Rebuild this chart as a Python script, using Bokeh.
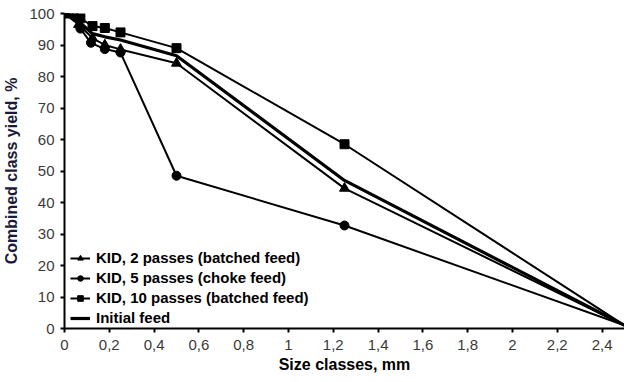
from bokeh.plotting import figure
from bokeh.models import Range1d, FixedTicker, Legend, LegendItem
from bokeh.embed import file_html
from bokeh.resources import INLINE

# ---- data ----
x_2p = [0, 0.063, 0.125, 0.18, 0.25, 0.5, 1.25, 2.5]
y_2p = [100, 96.5, 92.2, 90.0, 88.6, 84.2, 44.5, 1.0]

x_5p = [0, 0.04, 0.071, 0.118, 0.18, 0.25, 0.5, 1.25, 2.5]
y_5p = [100, 100, 95.2, 90.7, 88.7, 87.6, 48.5, 32.7, 1.0]

x_10p = [0, 0.071, 0.125, 0.18, 0.25, 0.5, 1.25, 2.5]
y_10p = [100, 98.5, 96.0, 95.4, 94.0, 89.0, 58.5, 1.0]

x_init = [0, 0.071, 0.125, 0.18, 0.25, 0.5, 1.25, 2.5]
y_init = [100, 97.0, 93.6, 92.6, 91.6, 86.6, 47.0, 1.0]

x_ticks = [0, 0.2, 0.4, 0.6, 0.8, 1.0, 1.2, 1.4, 1.6, 1.8, 2.0, 2.2, 2.4]
x_tick_labels = ["0", "0,2", "0,4", "0,6", "0,8", "1", "1,2", "1,4", "1,6", "1,8", "2", "2,2", "2,4"]
y_ticks = [0, 10, 20, 30, 40, 50, 60, 70, 80, 90, 100]

labels = ["KID, 2 passes (batched feed)", "KID, 5 passes (choke feed)",
          "KID, 10 passes (batched feed)", "Initial feed"]

FONT = "Liberation Sans"

p = figure(frame_width=560, frame_height=315, output_backend="svg", toolbar_location=None,
           x_range=Range1d(0, 2.5), y_range=Range1d(0, 100),
           min_border_left=62, min_border_right=0, min_border_top=13, min_border_bottom=46)
p.outline_line_color = None
p.xgrid.visible = False
p.ygrid.visible = False
p.background_fill_color = "white"
p.border_fill_color = "white"

# series
r2l = p.line(x_2p, y_2p, line_color="black", line_width=2)
r2m = p.scatter(x_2p[:-1], y_2p[:-1], marker="triangle", size=10, color="black")
r5l = p.line(x_5p, y_5p, line_color="black", line_width=2)
r5m = p.scatter(x_5p[:-1], y_5p[:-1], marker="circle", size=9, color="black")
r10l = p.line(x_10p, y_10p, line_color="black", line_width=2)
r10m = p.scatter(x_10p[:-1], y_10p[:-1], marker="square", size=9, color="black")
ril = p.line(x_init, y_init, line_color="black", line_width=3.2)

legend = Legend(items=[
    LegendItem(label=labels[0], renderers=[r2l, r2m]),
    LegendItem(label=labels[1], renderers=[r5l, r5m]),
    LegendItem(label=labels[2], renderers=[r10l, r10m]),
    LegendItem(label=labels[3], renderers=[ril]),
], location=(6, 2))
legend.label_text_font = FONT
legend.label_text_font_style = "bold"
legend.label_text_font_size = "15px"
legend.label_text_color = "black"
legend.glyph_width = 20
legend.glyph_height = 14
legend.label_standoff = 6
legend.spacing = 3
legend.padding = 4
legend.margin = 0
legend.border_line_color = None
legend.background_fill_alpha = 0
p.add_layout(legend)

# axes
for ax in (p.xaxis[0], p.yaxis[0]):
    ax.axis_line_color = "black"
    ax.axis_line_width = 2
    ax.major_tick_line_color = "black"
    ax.major_tick_line_width = 2
    ax.major_tick_out = 4
    ax.major_tick_in = 0
    ax.minor_tick_line_color = None
    ax.major_label_text_font = FONT
    ax.major_label_text_font_size = "15px"
    ax.major_label_text_color = "#3a3a3a"
    ax.axis_label_text_font = FONT
    ax.axis_label_text_font_style = "bold"
    ax.axis_label_text_font_size = "16px"

p.xaxis.ticker = FixedTicker(ticks=x_ticks)
p.xaxis.major_label_overrides = {t: l for t, l in zip(x_ticks, x_tick_labels)}
p.xaxis.axis_label = "Size classes, mm"
p.xaxis.axis_label_text_color = "black"
p.xaxis.major_label_standoff = 7
p.xaxis.axis_label_standoff = 3

p.yaxis.ticker = FixedTicker(ticks=y_ticks)
p.yaxis.axis_label = "Combined class yield, %"
p.yaxis.axis_label_text_color = "#1a1a3a"
p.yaxis.major_label_standoff = 6
p.yaxis.axis_label_standoff = 6

open("out.html", "w").write(file_html(p, INLINE))
